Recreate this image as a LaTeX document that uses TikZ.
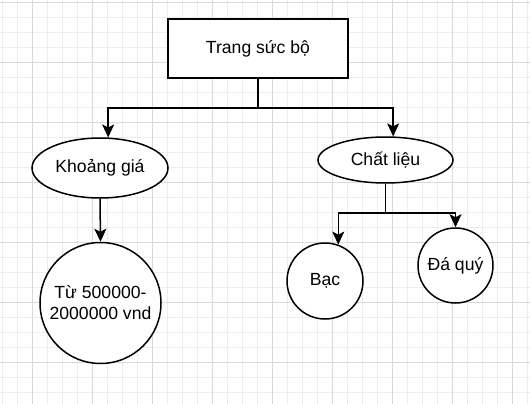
\documentclass[tikz,border=0pt]{standalone}
\usepackage{fontspec}
\setmainfont{Liberation Sans}
\usetikzlibrary{arrows.meta,shapes.geometric}
\newcommand{\sheet}{
	\foreach \x in {2,17,...,527} \draw[minor] (\x,0) -- (\x,404);
	\foreach \y in {2,17,...,402} \draw[minor] (0,\y) -- (530,\y);
	\foreach \x in {32,92,...,512} \draw[major] (\x,0) -- (\x,404);
	\foreach \y in {2,62,...,392} \draw[major] (0,\y) -- (530,\y);
}
\tikzset{
	minor/.style={draw=black!7,line width=0.8pt},
	major/.style={draw=black!15,line width=0.8pt},
	box/.style={draw,fill=white,line width=1.5pt,minimum width=180pt,minimum height=59pt,inner sep=0pt},
	oval/.style={ellipse,draw,fill=white,line width=1.5pt,inner sep=0pt},
	ball/.style={circle,draw,fill=white,line width=1.5pt,inner sep=0pt,align=center},
	link/.style={line width=1.5pt,-{Stealth[length=13pt,width=12pt,inset=3pt]}},
	every node/.style={font=\fontsize{17.6}{21}\selectfont}
}
\begin{document}
\begin{tikzpicture}[x=1pt,y=-1pt]
	\useasboundingbox[fill=white] (0,0) rectangle (530,404);
	\sheet
	\node[box] (top) at (258,48.5) {Trang sức bộ};
	\node[oval,minimum width=136pt,minimum height=60pt] (gia) at (100,168) {Khoảng giá};
	\node[oval,minimum width=135pt,minimum height=46pt] (lieu) at (385.5,160) {Chất liệu};
	\node[ball,minimum size=121pt] (tien) at (100.5,303) {Từ 500000-\\2000000 vnd};
	\node[ball,minimum size=76pt] (bac) at (325,281) {Bạc};
	\node[ball,minimum size=75pt] (da) at (455.5,265.5) {Đá quý};
	\coordinate (J1) at (258,108);
	\coordinate (J2) at (385.5,213);
	\draw[line width=1.5pt] (top.south) -- (J1);
	\draw[link] (J1) -| (gia.75);
	\draw[link] (J1) -| (lieu.72);
	\draw[link] (gia.south) -- (tien.north);
	\draw[line width=1.5pt] (lieu.south) -- (J2);
	\draw[link] (J2) -| (bac.70);
	\draw[link] (J2) -| (da.north);
\end{tikzpicture}
\end{document}
